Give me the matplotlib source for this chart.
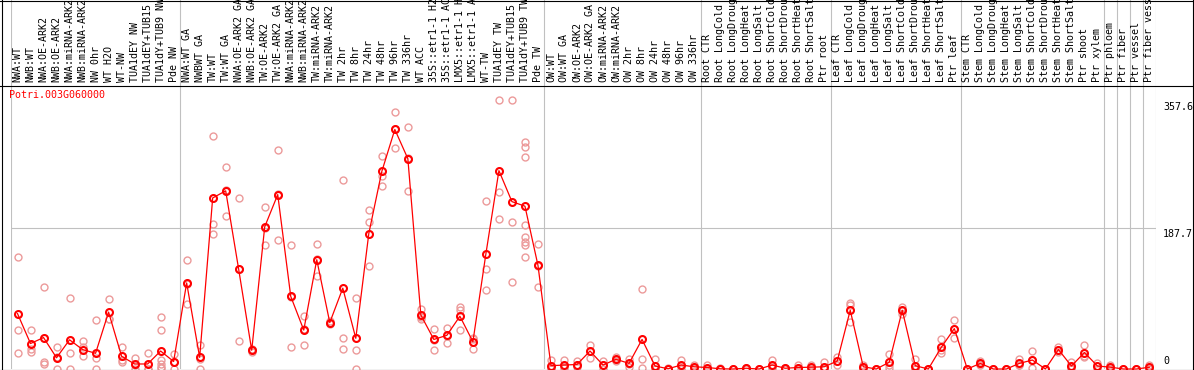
import matplotlib
matplotlib.use("Agg")
import matplotlib.pyplot as plt
import matplotlib.transforms as mtransforms

gene = "Potri.003G060000"

labels = [
    "NWA:WT", "NWB:WT", "NWA:OE-ARK2", "NWB:OE-ARK2", "NWA:miRNA-ARK2", "NWB:miRNA-ARK2",
    "NW 0hr", "WT H2O", "WT-NW", "TUA1dEY NW", "TUA1dEY+TUB15 NW", "TUA1dY+TUB9 NW", "Pde NW",
    "NWA:WT GA", "NWBWT GA", "TW:WT", "TW:WT GA", "NWA:OE-ARK2 GA", "NWB:OE-ARK2 GA",
    "TW:OE-ARK2", "TW:OE-ARK2 GA", "NWA:miRNA-ARK2", "NWB:miRNA-ARK2", "TW:miRNA-ARK2",
    "TW:miRNA-ARK2", "TW 2hr", "TW 8hr", "TW 24hr", "TW 48hr", "TW 96hr", "TW 336hr",
    "WT ACC", "35S::etr1-1 H2O", "35S::etr1-1 ACC", "LMX5::etr1-1 H2O", "LMX5::etr1-1 ACC",
    "WT-TW", "TUA1dEY TW", "TUA1dEY+TUB15 TW", "TUA1dY+TUB9 TW", "Pde TW",
    "OW:WT", "OW:WT GA", "OW:OE-ARK2", "OW:OE-ARK2 GA", "OW:miRNA-ARK2", "OW:miRNA-ARK2",
    "OW 2hr", "OW 8hr", "OW 24hr", "OW 48hr", "OW 96hr", "OW 336hr",
    "Root CTR", "Root LongCold", "Root LongDrought", "Root LongHeat", "Root LongSalt",
    "Root ShortCold", "Root ShortDrought", "Root ShortHeat", "Root ShortSalt", "Ptr root",
    "Leaf CTR", "Leaf LongCold", "Leaf LongDrought", "Leaf LongHeat", "Leaf LongSalt",
    "Leaf ShortCold", "Leaf ShortDrought", "Leaf ShortHeat", "Leaf ShortSalt", "Ptr leaf",
    "Stem CTR", "Stem LongCold", "Stem LongDrought", "Stem LongHeat", "Stem LongSalt",
    "Stem ShortCold", "Stem ShortDrought", "Stem ShortHeat", "Stem ShortSalt", "Ptr shoot",
    "Ptr xylem", "Ptr phloem", "Ptr fiber", "Ptr vessel", "Ptr fiber vessel",
]

group_sizes = [13, 28, 12, 10, 10, 11, 1, 1, 1, 1]

means = [
    74, 34, 42, 15, 39, 26, 21, 76, 17, 6.7, 6.7, 24, 10,
    115, 15.5, 228.5, 238, 133, 25, 190, 233, 97, 52, 146, 62, 108, 41, 181, 264,
    320, 281, 72, 39.5, 45, 70.5, 36.4, 154, 265, 223.6, 217.5, 138.5,
    4.4, 5.3, 6, 24, 5.3, 13, 7.5, 39.5, 4, 0.3, 5.3, 3,
    2, 0.3, 0, 1, 0, 5.3, 1, 2, 2.4, 3,
    10.6, 78.5, 3, 0, 9, 78.5, 4.4, 0, 29, 54,
    0, 7.5, 0, 0, 7.5, 12, 0, 26, 4, 22, 4,
    2.4, 0, 0, 2.4,
]

replicates = [
    [150, 52, 21], [52, 27, 23], [109, 10, 7], [29, 16, 0], [95, 22, 0],
    [37, 30, 17], [65, 15, 0], [94, 67, 67], [30, 12, 10], [15, 5, 0],
    [22, 0, 0], [69, 52, 12, 7, 3, 2], [20, 10, 0],
    [145, 113, 87], [32, 14, 0], [311.5, 194, 181], [270, 239, 205], [228, 133, 37],
    [27, 25, 23], [217, 188, 165], [292, 234, 172], [165, 96, 30], [71, 53, 32],
    [167, 147, 124], [64, 61, 60], [252, 41, 27], [95, 26, 0], [212, 196, 138],
    [285, 258, 245], [343, 320, 295], [323, 282, 238], [80, 69, 67], [53, 39, 26],
    [55, 44, 35], [83, 79, 52], [42, 40, 27], [224, 133, 105], [359, 237, 200],
    [360, 197, 116], [303, 297, 283, 193, 176, 169, 165, 149], [167, 138, 110],
    [12, 1, 0], [12, 3, 1], [11, 5, 3], [32, 24, 15], [11, 5, 0], [16, 12, 11],
    [13, 7, 3], [107, 13, 1], [13, 0, 0], [1, 0, 0], [12, 4, 0], [6, 2, 1],
    [6, 0, 0], [1, 0, 0], [0, 0, 0], [2, 1, 0], [0, 0, 0], [12, 3, 1], [2, 1, 0],
    [5, 1, 0], [5, 2, 0], [10, 0, 0],
    [15.5, 11, 5], [88, 85, 63], [5, 3, 1], [0, 0, 0], [20, 5, 2], [83, 78, 74],
    [13, 0, 0], [0, 0, 0], [39.5, 25, 22], [66, 54, 42],
    [0, 0, 0], [10.6, 7, 5], [0, 0, 0], [0, 0, 0], [13, 5, 5], [24, 12, 1],
    [0, 0, 0], [30, 25, 23], [9, 3, 0], [32, 18, 16], [7.5, 4, 0],
    [6, 1, 0], [0, 0, 0], [0, 0, 0], [6, 1, 0],
]

ytick_values = [0, 187.7, 357.6]
ytick_labels = ["0", "187.7", "357.6"]
grid_value = 187.7

# ---------------------------------------------------------------- layout
W, H = 1194, 370
fig = plt.figure(figsize=(W / 100, H / 100), dpi=100)
FONT = "DejaVu Sans Mono"
FS = 7.2
GRAY = "#c0c0c0"
PINK = "#ec9a9a"


def fx(px):
    return px / W


def fy(py):
    return 1 - py / H


x_left, x_right = 11, 1156
y_top, y_bot = 85, 369
n = len(labels)

ax = fig.add_axes([fx(x_left), fy(y_bot), fx(x_right) - fx(x_left), fy(y_top) - fy(y_bot)])
ax.set_xlim(0, n)
ax.set_ylim(0, 379.4)
ax.axis("off")

hax = fig.add_axes([fx(x_left), fy(y_top), fx(x_right) - fx(x_left), 1 - fy(y_top)])
hax.set_xlim(0, n)
hax.set_ylim(0, y_top)
hax.axis("off")

# group separators
bounds = [0]
for g in group_sizes:
    bounds.append(bounds[-1] + g)
for b in bounds:
    ax.axvline(b, color=GRAY, lw=0.8, zorder=0)
    hax.axvline(b, color=GRAY, lw=0.8, zorder=0)

ax.axhline(grid_value, color=GRAY, lw=0.8, zorder=0)

# header labels
for i, lab in enumerate(labels):
    hax.text(i + 0.5, 3, lab, rotation=90, ha="center", va="bottom",
             fontsize=FS, family=FONT, color="black", clip_on=True)

# data
xs = [i + 0.5 for i in range(n)]
for i, reps in enumerate(replicates):
    ax.plot([xs[i]] * len(reps), reps, linestyle="none", marker="o", ms=5,
            mfc="none", mec=PINK, mew=1.0, clip_on=False, zorder=2)
ax.plot(xs, means, "-", color="red", lw=0.9, clip_on=False, zorder=3)
ax.plot(xs, means, linestyle="none", marker="o", ms=5, mfc="none", mec="red",
        mew=1.5, clip_on=False, zorder=4)

# y labels on the right
trans = mtransforms.blended_transform_factory(fig.transFigure, ax.transData)
for v, t in zip(ytick_values, ytick_labels):
    if v == 0:
        tr = mtransforms.offset_copy(trans, fig=fig, x=0, y=3, units="dots")
        va = "bottom"
    else:
        tr = mtransforms.offset_copy(trans, fig=fig, x=0, y=-1, units="dots")
        va = "top"
    fig.text(1163 / W, v, t, transform=tr, ha="left", va=va, fontsize=FS,
             family=FONT, color="black")

# frame overlay
oax = fig.add_axes([0, 0, 1, 1], zorder=5)
oax.set_xlim(0, W)
oax.set_ylim(H, 0)
oax.axis("off")
oax.patch.set_alpha(0)
for (xa, ya, xb, yb) in [(0, 0.5, W, 0.5), (0, y_bot + 0.5, W, y_bot + 0.5),
                         (1.5, 0, 1.5, H), (W - 1.5, 0, W - 1.5, H),
                         (0, y_top + 0.5, W, y_top + 0.5)]:
    oax.plot([xa, xb], [ya, yb], color="black", lw=0.8)

oax.text(9, 95.5, gene, color="red", fontsize=FS, family=FONT, ha="left", va="center")

fig.savefig("out.png", dpi=100)
